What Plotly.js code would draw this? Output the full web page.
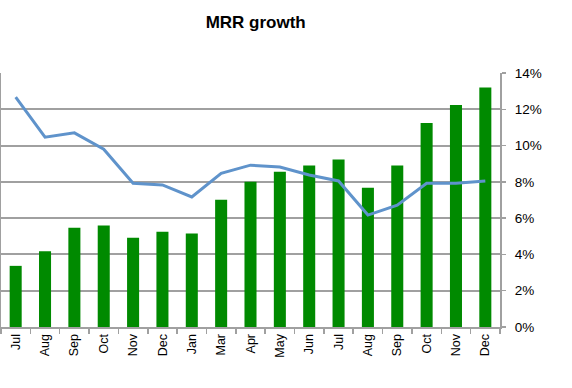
<!DOCTYPE html>
<html>
<head>
<meta charset="utf-8">
<script src="https://cdn.plot.ly/plotly-3.0.1.min.js"></script>
<style>html,body{margin:0;padding:0;background:#fff;}#chart{width:572px;height:388px;}</style>
</head>
<body>
<div id="chart"></div>
<script>
const months = ["Jul","Aug","Sep","Oct","Nov","Dec","Jan","Mar","Apr","May","Jun","Jul","Aug","Sep","Oct","Nov","Dec"];
const barValues = [3.37,4.17,5.47,5.60,4.92,5.25,5.16,7.02,8.01,8.56,8.90,9.23,7.68,8.90,11.24,12.23,13.2];
const lineValues = [12.67,10.46,10.70,9.80,7.92,7.83,7.17,8.47,8.92,8.82,8.38,8.05,6.17,6.72,7.92,7.92,8.05];
const yTicks = [0,2,4,6,8,10,12,14];

const xs = months.map((m,i)=>i);
const traces = [
  {type:'bar', x:xs, y:barValues, marker:{color:'#008a00'}, width:0.41, hoverinfo:'skip'},
  {type:'scatter', mode:'lines', x:xs, y:lineValues, line:{color:'#5f93cb', width:3}, hoverinfo:'skip'}
];
const layout = {
  width:572, height:388,
  margin:{l:1, r:72, t:73, b:61},
  paper_bgcolor:'#fff', plot_bgcolor:'#fff',
  showlegend:false,
  font:{family:'Liberation Sans, Arial, sans-serif', color:'#000', size:12},
  title:{text:'<b>MRR growth</b>', x:0.447, xanchor:'center', y:0.943, yanchor:'middle', font:{size:17, color:'#000'}},
  xaxis:{
    range:[-0.5,16.5], tickmode:'array', tickvals:xs, ticktext:months, tickangle:-90,
    ticks:'', showgrid:false, zeroline:false, showline:true, linecolor:'#a0a0a0', linewidth:2,
    tickfont:{size:12.5},
    minor:{tickmode:'linear', tick0:-0.5, dtick:1, ticks:'outside', ticklen:5, tickcolor:'#a0a0a0', tickwidth:1.5, showgrid:false}
  },
  yaxis:{
    side:'right', range:[0,14], tickmode:'array', tickvals:yTicks, ticktext:yTicks.map(v=>v+'%'),
    showgrid:true, gridcolor:'#a0a0a0', gridwidth:2, zeroline:false,
    showline:true, linecolor:'#a0a0a0', linewidth:2, mirror:true,
    ticks:'outside', ticklen:4, tickcolor:'#a0a0a0', tickwidth:1.5,
    tickfont:{size:13.5}, ticklabelstandoff:6
  },
  bargap:0.59
};
Plotly.newPlot('chart', traces, layout, {staticPlot:true});
</script>
</body>
</html>
